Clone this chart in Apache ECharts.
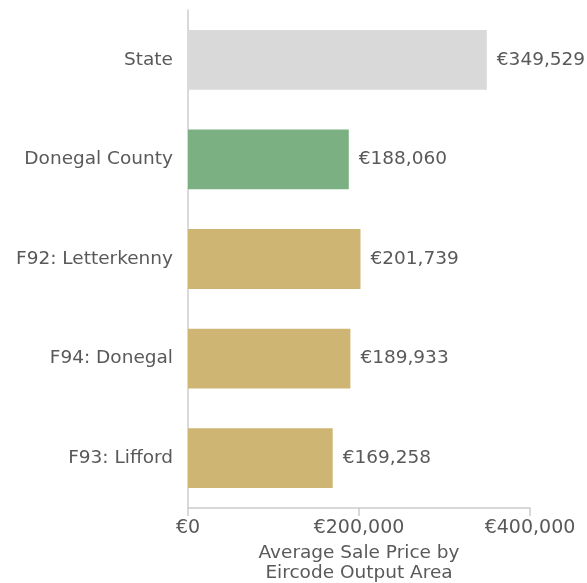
<!DOCTYPE html>
<html lang="en">
<head>
    <meta charset="utf-8">
    <title>Average Sale Price by Eircode Output Area</title>
    <script src="https://cdn.jsdelivr.net/npm/echarts@6.0.0/dist/echarts.min.js"></script>
    <style>
        html, body { margin: 0; padding: 0; background: #fff; }
    </style>
</head>
<body>
<div id="chart" style="width: 587px; height: 583px;"></div>
<script>
    // categories listed bottom to top (category axis on y starts at the bottom)
    var areas = ['F93: Lifford', 'F94: Donegal', 'F92: Letterkenny', 'Donegal County', 'State'];
    var prices = [169258, 189933, 201739, 188060, 349529];
    var barColors = ['#cfb574', '#cfb574', '#cfb574', '#7bb083', '#d9d9d9'];
    var xTicks = [0, 200000, 400000];

    var textColor = '#595959';
    var fontFamily = '"DejaVu Sans", "Open Sans", sans-serif';

    function euro(v) {
        return '€' + v.toLocaleString('en-US');
    }

    var chart = echarts.init(document.getElementById('chart'));
    var option = {
        animation: false,
        textStyle: {fontFamily: fontFamily},
        grid: {left: 188, right: 57, top: 10, bottom: 75, containLabel: false, outerBoundsMode: 'none'},
        xAxis: {
            type: 'value',
            min: xTicks[0],
            max: xTicks[xTicks.length - 1],
            interval: xTicks[1] - xTicks[0],
            name: 'Average Sale Price by\nEircode Output Area',
            nameLocation: 'middle',
            nameGap: 35,
            nameTextStyle: {color: textColor, fontSize: 18.5, lineHeight: 20, verticalAlign: 'top'},
            axisLine: {show: true, lineStyle: {color: '#cccccc', width: 1.5}},
            axisTick: {show: true, length: 8, lineStyle: {color: '#cccccc', width: 1.5}},
            splitLine: {show: false},
            axisLabel: {
                color: textColor,
                fontSize: 19,
                margin: 11,
                formatter: function (v) { return euro(v); }
            }
        },
        yAxis: {
            type: 'category',
            data: areas,
            axisLine: {show: true, lineStyle: {color: '#cccccc', width: 1.5}},
            axisTick: {show: false},
            axisLabel: {color: textColor, fontSize: 18.5, margin: 15}
        },
        series: [{
            type: 'bar',
            barWidth: '60%',
            data: prices.map(function (v, i) {
                return {value: v, itemStyle: {color: barColors[i]}};
            }),
            label: {
                show: true,
                position: 'right',
                distance: 10,
                color: textColor,
                fontSize: 18.5,
                formatter: function (p) { return euro(p.value); }
            }
        }]
    };
    chart.setOption(option);
</script>
</body>
</html>
